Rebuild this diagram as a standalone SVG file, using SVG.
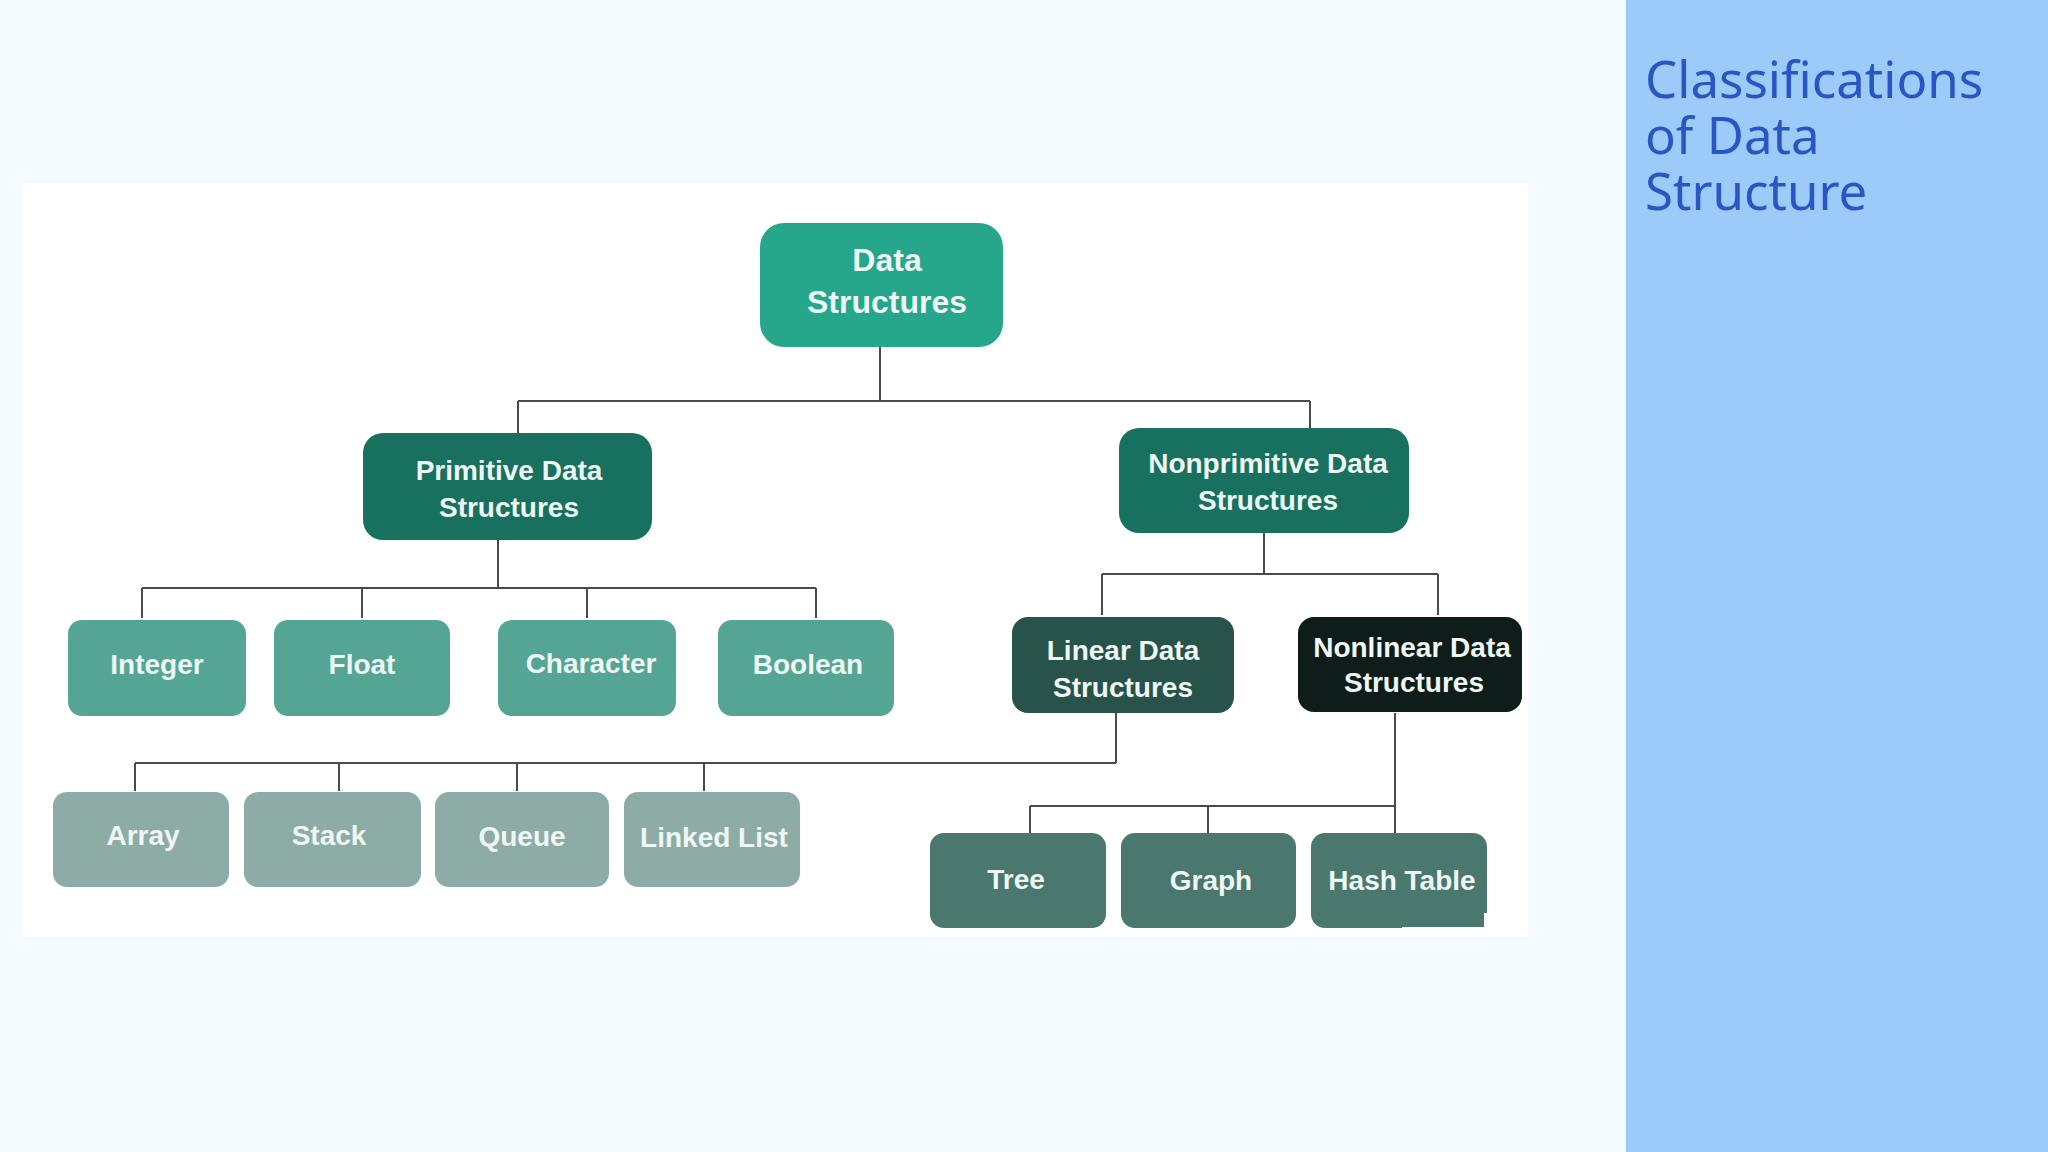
<svg xmlns="http://www.w3.org/2000/svg" width="2048" height="1152" viewBox="0 0 2048 1152">
<style>
.lbl{font-family:"Liberation Sans",Arial,sans-serif;font-weight:bold;font-size:28px;fill:#eef7f3;text-anchor:middle}
.big{font-size:32px}
.ln{stroke:#4a4a4a;stroke-width:2;fill:none}
.title{font-family:"Noto Sans","Open Sans",sans-serif;font-size:51px;fill:#2a55c5}
</style>
<rect width="2048" height="1152" fill="#f5faff"/>
<rect x="1626" y="0" width="422" height="1152" fill="#9ccbfa"/>
<text class="title" x="1645" y="98">Classifications</text>
<text class="title" x="1645" y="154">of Data</text>
<text class="title" x="1645" y="210">Structure</text>
<rect x="22" y="183" width="1506" height="754" fill="#ffffff"/>

<g id="connectors" class="ln">
<path d="M880 347V401M518 401H1310M518 401V433M1310 401V428"/>
<path d="M498 540V588M142 588H816M142 588V618M362 588V618M587 588V618M816 588V618"/>
<path d="M1264 533V574M1102 574H1438M1102 574V615M1438 574V615"/>
<path d="M1116 713V763M135 763H1116M135 763V791M339 763V791M517 763V791M704 763V791"/>
<path d="M1395 713V834M1030 806H1395M1030 806V834M1208 806V834"/>
</g>

<g id="data-structures"><rect x="760" y="223" width="243" height="124" rx="24" fill="#26a68a"/><text class="lbl big" x="887" y="271">Data</text><text class="lbl big" x="887" y="313">Structures</text></g>
<g id="primitive"><rect x="363" y="433" width="289" height="107" rx="20" fill="#18705e"/><text class="lbl" x="509" y="480">Primitive Data</text><text class="lbl" x="509" y="517">Structures</text></g>
<g id="nonprimitive"><rect x="1119" y="428" width="290" height="105" rx="20" fill="#18705e"/><text class="lbl" x="1268" y="473">Nonprimitive Data</text><text class="lbl" x="1268" y="510">Structures</text></g>

<g id="integer"><rect x="68" y="620" width="178" height="96" rx="14" fill="#55a595"/><text class="lbl" x="157" y="674">Integer</text></g>
<g id="float"><rect x="274" y="620" width="176" height="96" rx="14" fill="#55a595"/><text class="lbl" x="362" y="674">Float</text></g>
<g id="character"><rect x="498" y="620" width="178" height="96" rx="14" fill="#55a595"/><text class="lbl" x="591" y="673">Character</text></g>
<g id="boolean"><rect x="718" y="620" width="176" height="96" rx="14" fill="#55a595"/><text class="lbl" x="808" y="674">Boolean</text></g>

<g id="linear"><rect x="1012" y="617" width="222" height="96" rx="16" fill="#27534a"/><text class="lbl" x="1123" y="660">Linear Data</text><text class="lbl" x="1123" y="697">Structures</text></g>
<g id="nonlinear"><rect x="1298" y="617" width="224" height="95" rx="16" fill="#0e1d19"/><text class="lbl" x="1412" y="657">Nonlinear Data</text><text class="lbl" x="1414" y="692">Structures</text></g>

<g id="array"><rect x="53" y="792" width="176" height="95" rx="14" fill="#8eaca6"/><text class="lbl" x="143" y="845">Array</text></g>
<g id="stack"><rect x="244" y="792" width="177" height="95" rx="14" fill="#8eaca6"/><text class="lbl" x="329" y="845">Stack</text></g>
<g id="queue"><rect x="435" y="792" width="174" height="95" rx="14" fill="#8eaca6"/><text class="lbl" x="522" y="846">Queue</text></g>
<g id="linked-list"><rect x="624" y="792" width="176" height="95" rx="14" fill="#8eaca6"/><text class="lbl" x="714" y="847">Linked List</text></g>

<g id="tree"><rect x="930" y="833" width="176" height="95" rx="14" fill="#4a776e"/><text class="lbl" x="1016" y="889">Tree</text></g>
<g id="graph"><rect x="1121" y="833" width="175" height="95" rx="14" fill="#4a776e"/><text class="lbl" x="1211" y="890">Graph</text></g>
<g id="hash-table"><path d="M1325 833H1473A14 14 0 0 1 1487 847V913H1484V927H1402V928H1325A14 14 0 0 1 1311 914V847A14 14 0 0 1 1325 833Z" fill="#4a776e"/><text class="lbl" x="1402" y="890">Hash Table</text></g>
</svg>
